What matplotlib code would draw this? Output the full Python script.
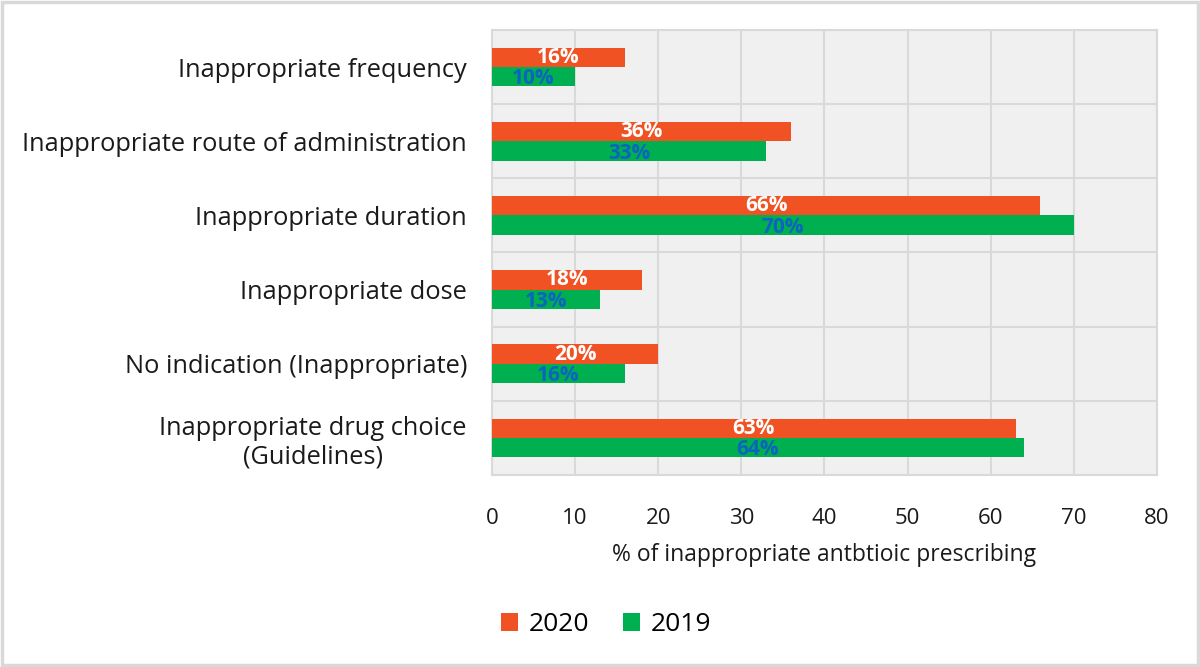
import matplotlib
matplotlib.use("Agg")
import matplotlib.pyplot as plt
import numpy as np
from matplotlib.patches import Rectangle

plt.rcParams["font.family"] = ["Open Sans", "DejaVu Sans"]

# categories listed top to bottom as in the chart
categories = [
    "Inappropriate frequency",
    "Inappropriate route of administration",
    "Inappropriate duration",
    "Inappropriate dose",
    "No indication (Inappropriate)",
    "Inappropriate drug choice\n(Guidelines)",
]
vals_2020 = [16, 36, 66, 18, 20, 63]
vals_2019 = [10, 33, 70, 13, 16, 64]
xticks = [0, 10, 20, 30, 40, 50, 60, 70, 80]

C2020 = "#F05223"
C2019 = "#00B050"
LABEL_BLUE = "#0A64C0"
GRID = "#d9d9d9"

fig = plt.figure(figsize=(12, 6.67), dpi=100)
ax = fig.add_axes([0.41, 0.288, 0.554, 0.667])
ax.set_facecolor("#f0f0f0")

y = np.arange(len(categories))
h = 0.26
b20 = ax.barh(y - h / 2, vals_2020, height=h, color=C2020, label="2020", zorder=3)
b19 = ax.barh(y + h / 2, vals_2019, height=h, color=C2019, label="2019", zorder=3)

for rect, v in zip(b20, vals_2020):
    ax.text(v / 2, rect.get_y() + rect.get_height() / 2, f"{v}%", ha="center", va="center",
            color="white", fontsize=15, fontweight="bold", zorder=4)
for rect, v in zip(b19, vals_2019):
    ax.text(v / 2, rect.get_y() + rect.get_height() / 2 + 0.03, f"{v}%", ha="center", va="center",
            color=LABEL_BLUE, fontsize=15, fontweight="bold", zorder=4)

ax.set_xlim(0, 80)
ax.set_ylim(len(categories) - 0.5, -0.5)
ax.set_xticks(xticks)
ax.set_yticks(y)
ax.set_yticklabels(categories, fontsize=18.3, color="#1a1a1a")
ax.tick_params(axis="x", labelsize=16, colors="#1a1a1a", length=0, pad=24)
ax.tick_params(axis="y", length=0, pad=18)
for lab in ax.get_yticklabels():
    lab.set_horizontalalignment("right")
    lab.set_multialignment("center")

# gridlines: vertical at ticks, horizontal at category boundaries
ax.set_yticks(np.arange(-0.5, len(categories), 1), minor=True)
ax.grid(axis="x", which="major", color=GRID, linewidth=1.5, zorder=0)
ax.grid(axis="y", which="minor", color=GRID, linewidth=1.5, zorder=0)
ax.tick_params(axis="y", which="minor", length=0)
for s in ax.spines.values():
    s.set_color(GRID)
    s.set_linewidth(1.5)

ax.set_xlabel("% of inappropriate antbtioic prescribing", fontsize=16.5, color="#1a1a1a", labelpad=10)

fig.legend(handles=[b20, b19], labels=["2020", "2019"], loc="center", bbox_to_anchor=(0.505, 0.063),
           ncol=2, frameon=False, fontsize=19, handlelength=0.65, handleheight=0.65,
           handletextpad=0.4, columnspacing=1.3)

# outer frame of the image
fig.patches.append(Rectangle((0.002, 0.003), 0.996, 0.994, transform=fig.transFigure,
                             fill=False, edgecolor="#d9d9d9", linewidth=2.5))

fig.savefig("out.png", dpi=100, facecolor="white")
